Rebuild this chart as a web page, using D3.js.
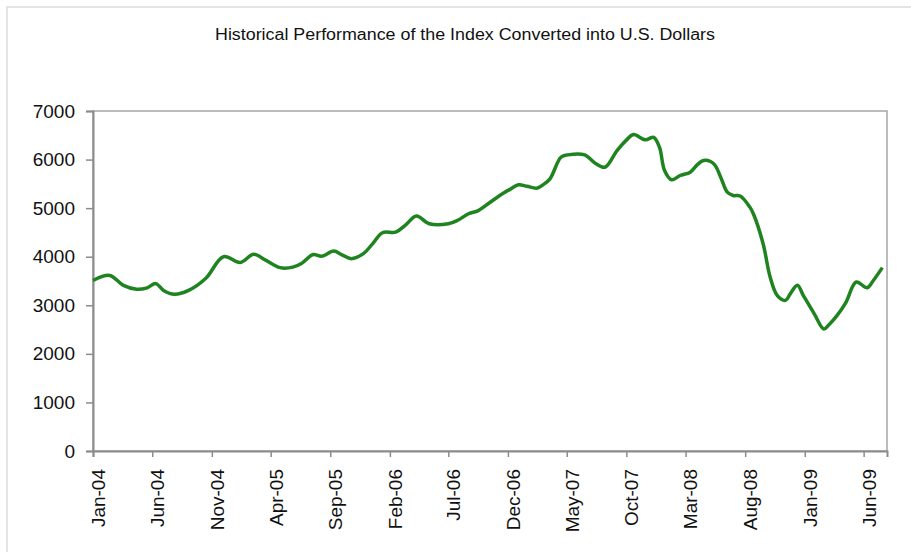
<!DOCTYPE html>
<html>
<head>
<meta charset="utf-8">
<script src="https://cdn.jsdelivr.net/npm/d3@7"></script>
<style>
  body { margin: 0; background: #fff; }
  text { font-family: "Liberation Sans", Arial, sans-serif; fill: #111; }
</style>
</head>
<body>
<div id="chart"></div>
<script>
// Data (index level in USD)
const dates = [
  "2004-01-01", "2004-02-13", "2004-03-19", "2004-04-22", "2004-05-19", "2004-06-10",
  "2004-07-01", "2004-07-28", "2004-09-01", "2004-10-16", "2004-12-01", "2005-01-13",
  "2005-02-16", "2005-03-19", "2005-04-25", "2005-05-28", "2005-06-19", "2005-07-19",
  "2005-08-10", "2005-09-10", "2005-10-01", "2005-10-25", "2005-11-25", "2005-12-19",
  "2006-01-13", "2006-02-16", "2006-03-13", "2006-04-10", "2006-05-13", "2006-07-01",
  "2006-07-25", "2006-08-22", "2006-09-16", "2006-10-13", "2006-11-10", "2006-12-07",
  "2006-12-28", "2007-01-19", "2007-02-13", "2007-03-01", "2007-03-19", "2007-04-16",
  "2007-05-04", "2007-06-16", "2007-07-13", "2007-08-07", "2007-09-07", "2007-10-01",
  "2007-10-19", "2007-11-19", "2007-12-10", "2007-12-25", "2008-01-07", "2008-01-25",
  "2008-02-16", "2008-03-13", "2008-04-01", "2008-04-16", "2008-05-04", "2008-05-16",
  "2008-06-01", "2008-06-16", "2008-07-01", "2008-07-19", "2008-08-13", "2008-08-22",
  "2008-09-16", "2008-10-04", "2008-10-22", "2008-11-13", "2008-11-25", "2008-12-13",
  "2008-12-28", "2009-01-25", "2009-02-19", "2009-03-04", "2009-03-22", "2009-04-16",
  "2009-05-13", "2009-06-10", "2009-06-25", "2009-07-19"
];
const values = [
  3510, 3615, 3410, 3330, 3360, 3446,
  3300, 3226, 3300, 3550, 4000, 3880,
  4050, 3930, 3775, 3785, 3860, 4045,
  4010, 4116, 4040, 3960, 4063, 4270,
  4494, 4507, 4650, 4836, 4679, 4679,
  4750, 4885, 4950, 5100, 5261, 5390,
  5481, 5450, 5411, 5480, 5604, 6048,
  6097, 6097, 5925, 5843, 6186, 6400,
  6515, 6406, 6459, 6254, 5775, 5584,
  5672, 5741, 5900, 5980, 5960, 5878,
  5600, 5329, 5261, 5250, 5021, 4885,
  4268, 3582, 3206, 3103, 3241, 3411,
  3206, 2830, 2510, 2600, 2760, 3050,
  3479, 3360, 3500, 3775
];
const xTickLabels = ["Jan-04", "Jun-04", "Nov-04", "Apr-05", "Sep-05", "Feb-06", "Jul-06",
  "Dec-06", "May-07", "Oct-07", "Mar-08", "Aug-08", "Jan-09", "Jun-09"];
const yTicks = [0, 1000, 2000, 3000, 4000, 5000, 6000, 7000];
const title = "Historical Performance of the Index Converted into U.S. Dollars";

const width = 911;
const height = 552;
const marginLeft = 93, marginRight = 24, marginTop = 111, marginBottom = 101;

const parseDay = d3.timeParse("%Y-%m-%d");
const parseTick = d3.timeParse("%b-%y");
const data = dates.map((d, i) => ({ date: parseDay(d), value: values[i] }));

const x = d3.scaleTime()
  .domain([parseDay("2004-01-01"), parseDay("2009-07-31")])
  .range([marginLeft, width - marginRight]);

const y = d3.scaleLinear()
  .domain([0, 7000])
  .range([height - marginBottom, marginTop]);

const svg = d3.select("#chart").append("svg")
  .attr("width", width)
  .attr("height", height)
  .attr("viewBox", [0, 0, width, height]);

// outer chart frame
svg.append("rect")
  .attr("x", 7).attr("y", 7)
  .attr("width", width).attr("height", height)
  .attr("fill", "none").attr("stroke", "#dcdcdc").attr("stroke-width", 1.5);

svg.append("text")
  .attr("x", 465).attr("y", 40)
  .attr("text-anchor", "middle")
  .attr("font-size", 16)
  .attr("textLength", 500)
  .attr("lengthAdjust", "spacingAndGlyphs")
  .text(title);

// plot area border
svg.append("rect")
  .attr("x", marginLeft).attr("y", marginTop)
  .attr("width", width - marginRight - marginLeft)
  .attr("height", height - marginBottom - marginTop)
  .attr("fill", "none").attr("stroke", "#a6a6a6").attr("stroke-width", 1.5);

// y axis
const yAxis = svg.append("g")
  .attr("transform", `translate(${marginLeft},0)`)
  .call(d3.axisLeft(y).tickValues(yTicks).tickSize(7).tickPadding(11).tickFormat(d3.format("d")));
yAxis.select(".domain").attr("stroke", "#8c8c8c").attr("stroke-width", 2);
yAxis.selectAll(".tick line").attr("stroke", "#8c8c8c").attr("stroke-width", 1.5);
yAxis.selectAll(".tick text").attr("font-size", 19).attr("font-family", "Liberation Sans, Arial, sans-serif").attr("fill", "#111");

// x axis
const xAxis = svg.append("g")
  .attr("transform", `translate(0,${height - marginBottom})`)
  .call(d3.axisBottom(x).tickValues(xTickLabels.map(parseTick)).tickSize(6).tickFormat(d3.timeFormat("%b-%y")));
xAxis.select(".domain").attr("stroke", "#8c8c8c").attr("stroke-width", 2);
xAxis.selectAll(".tick line").attr("stroke", "#8c8c8c").attr("stroke-width", 1.5);
xAxis.selectAll(".tick text")
  .attr("font-size", 19)
  .attr("font-family", "Liberation Sans, Arial, sans-serif")
  .attr("fill", "#111")
  .attr("text-anchor", "end")
  .attr("transform", "rotate(-90)")
  .attr("x", -18)
  .attr("y", 0)
  .attr("dy", "0.6em");

// index line
const line = d3.line()
  .x(d => x(d.date))
  .y(d => y(d.value))
  .curve(d3.curveCatmullRom.alpha(0.5));

svg.append("path")
  .datum(data)
  .attr("fill", "none")
  .attr("stroke", "#1f841f")
  .attr("stroke-width", 3.5)
  .attr("stroke-linejoin", "round")
  .attr("d", line);
</script>
</body>
</html>
